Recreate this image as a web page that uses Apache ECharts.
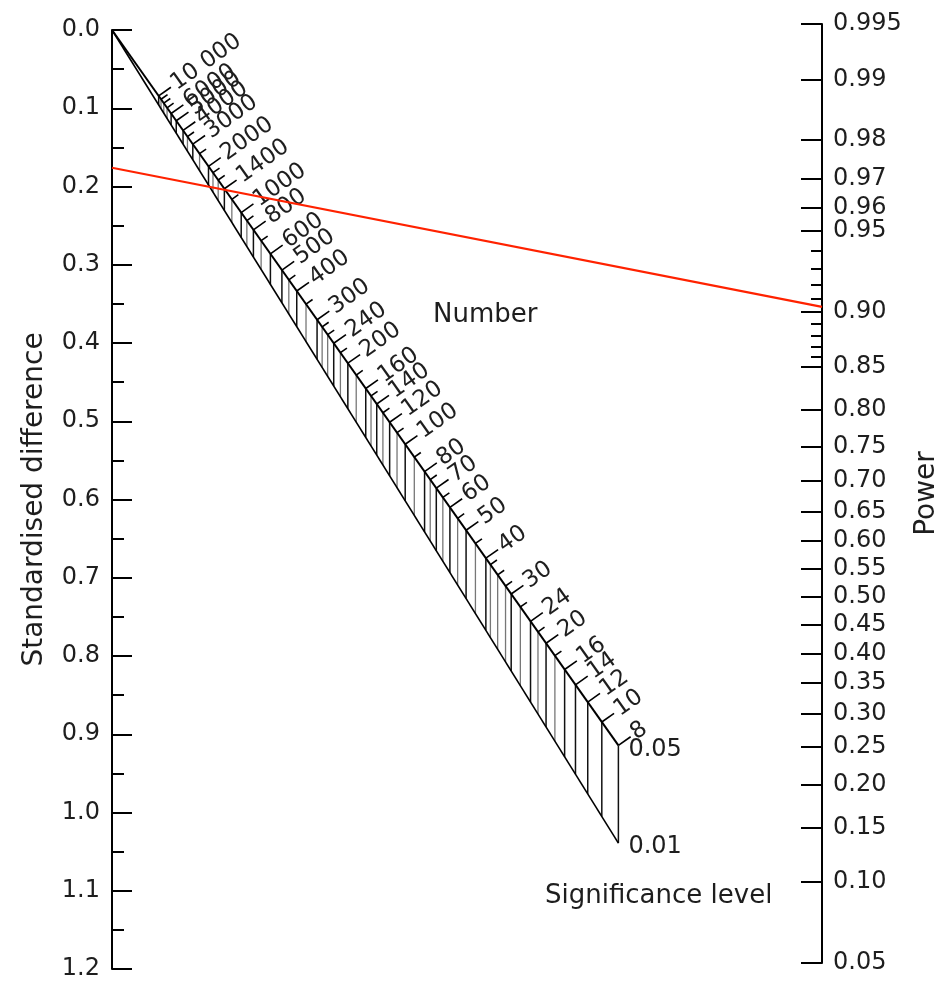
<!DOCTYPE html>
<html><head><meta charset="utf-8">
<script src="https://cdn.jsdelivr.net/npm/echarts@6/dist/echarts.min.js"></script>
<style>html,body{margin:0;padding:0;background:#fff}#c{width:934px;height:981px}</style>
</head><body><div id="c"></div>
<script>
// ---- data ----
const diffMin = 0, diffMax = 1.2, diffInterval = 0.1;
const powerTicks  = [0.995,0.99,0.98,0.97,0.96,0.95,0.90,0.85,0.80,0.75,0.70,0.65,0.60,0.55,0.50,0.45,0.40,0.35,0.30,0.25,0.20,0.15,0.10,0.05];
const powerLabels = ['0.995','0.99','0.98','0.97','0.96','0.95','0.90','0.85','0.80','0.75','0.70','0.65','0.60','0.55','0.50','0.45','0.40','0.35','0.30','0.25','0.20','0.15','0.10','0.05'];
const powerMinorTicks = [0.94,0.93,0.92,0.91,0.89,0.88,0.87,0.86];
const numberMajor  = [10000,6000,5000,4000,3000,2000,1400,1000,800,600,500,400,300,240,200,160,140,120,100,80,70,60,50,40,30,24,20,16,14,12,10,8];
const numberLabels = ['10 000','6000','5000','4000','3000','2000','1400','1000','800','600','500','400','300','240','200','160','140','120','100','80','70','60','50','40','30','24','20','16','14','12','10','8'];
const numberMinor  = [9000,8000,7000,3500,2500,1800,1600,1200,900,700,450,350,280,260,220,180,150,130,110,90,75,65,55,45,38,35,32,27,22,18];
const sigLevels = [0.05, 0.01];
const sigLabels = ['0.05', '0.01'];
const exampleDiff = 0.176, examplePower = 0.904;   // red example line

// inverse normal CDF (probit) – the power axis scale
function probit(p){
  const a=[-3.969683028665376e+01,2.209460984245205e+02,-2.759285104469687e+02,1.383577518672690e+02,-3.066479806614716e+01,2.506628277459239e+00];
  const b=[-5.447609879822406e+01,1.615858368580409e+02,-1.556989798598866e+02,6.680131188771972e+01,-1.328068155288572e+01];
  const c=[-7.784894002430293e-03,-3.223964580411365e-01,-2.400758277161838e+00,-2.549732539343734e+00,4.374664141464968e+00,2.938163982698783e+00];
  const d=[7.784695709041462e-03,3.224671290700398e-01,2.445134137142996e+00,3.754408661907416e+00];
  const pl=0.02425, ph=1-pl; let q,r;
  if(p<pl){q=Math.sqrt(-2*Math.log(p));return (((((c[0]*q+c[1])*q+c[2])*q+c[3])*q+c[4])*q+c[5])/((((d[0]*q+d[1])*q+d[2])*q+d[3])*q+1);}
  if(p<=ph){q=p-0.5;r=q*q;return (((((a[0]*r+a[1])*r+a[2])*r+a[3])*r+a[4])*r+a[5])*q/(((((b[0]*r+b[1])*r+b[2])*r+b[3])*r+b[4])*r+1);}
  q=Math.sqrt(-2*Math.log(1-p));return -(((((c[0]*q+c[1])*q+c[2])*q+c[3])*q+c[4])*q+c[5])/((((d[0]*q+d[1])*q+d[2])*q+d[3])*q+1);
}

const FONT = 'DejaVu Sans';
const TXT = '#1e1e1e';
const powerZ = powerTicks.map(probit);
const powerMinorZ = powerMinorTicks.map(probit);
const zTop = powerZ[0], zBot = powerZ[powerZ.length-1];

const chart = echarts.init(document.getElementById('c'), null, {renderer:'canvas'});

const baseOption = {
  animation: false,
  backgroundColor: '#fff',
  grid: [
    {left:112, right:112, top:30, bottom:12, outerBoundsMode:'none', containLabel:false},
    {left:112, right:112, top:24, bottom:18, outerBoundsMode:'none', containLabel:false}
  ],
  xAxis: [
    {gridIndex:0, type:'value', min:0, max:1, show:false},
    {gridIndex:1, type:'value', min:0, max:1, show:false}
  ],
  yAxis: [
    {gridIndex:0, type:'value', position:'left', inverse:true, min:diffMin, max:diffMax, interval:diffInterval,
     name:'Standardised difference', nameLocation:'middle', nameRotate:90, nameGap:63,
     nameTextStyle:{fontFamily:FONT, fontSize:28, color:TXT},
     axisLine:{show:true, onZero:false, lineStyle:{color:'#000', width:2}},
     axisTick:{show:true, inside:true, length:20, lineStyle:{color:'#000', width:2}},
     minorTick:{show:true, splitNumber:2, length:12, lineStyle:{color:'#000', width:2}},
     splitLine:{show:false}, minorSplitLine:{show:false},
     axisLabel:{formatter:v=>v.toFixed(1), margin:12, fontFamily:FONT, fontSize:24, color:TXT}},
    {gridIndex:1, type:'value', position:'right', min:zBot, max:zTop,
     name:'Power', nameLocation:'middle', nameRotate:90, nameGap:84,
     nameTextStyle:{fontFamily:FONT, fontSize:28, color:TXT},
     axisLine:{show:true, onZero:false, lineStyle:{color:'#000', width:2}},
     axisTick:{show:true, inside:true, length:21, customValues:powerZ, lineStyle:{color:'#000', width:2}},
     splitLine:{show:false},
     axisLabel:{customValues:powerZ, margin:11, fontFamily:FONT, fontSize:24, color:TXT,
       formatter:function(v){let bi=0,bd=1e9;powerZ.forEach((z,i)=>{const dd=Math.abs(z-v);if(dd<bd){bd=dd;bi=i;}});return powerLabels[bi];}}},
    {gridIndex:1, type:'value', position:'right', min:zBot, max:zTop,
     axisLine:{show:false, onZero:false}, splitLine:{show:false}, axisLabel:{show:false},
     axisTick:{show:true, inside:true, length:11, customValues:powerMinorZ, lineStyle:{color:'#000', width:2}}}
  ],
  series: []
};
chart.setOption(baseOption);

// relation between the two outer scales, via the library's axes
function zToDiff(z){
  const py = chart.convertToPixel({yAxisIndex:1}, z);
  return chart.convertFromPixel({yAxisIndex:0}, py);
}
const A = zToDiff(0);
const B = zToDiff(0) - zToDiff(1);
// nomogram: total N at significance alpha lies on ray through origin
function slope(alpha){ return A + B*probit(1 - alpha/2); }
function tOf(N){ return 1/(1 + B*Math.sqrt(N)/2); }
const s05 = slope(sigLevels[0]), s01 = slope(sigLevels[1]);
const Nend = numberMajor[numberMajor.length-1];
const tEnd = tOf(Nend);

const scaleData = [];
numberMajor.forEach((n,i)=>scaleData.push([n,1,i]));
numberMinor.forEach(n=>scaleData.push([n,0,-1]));

const series = [];
sigLevels.forEach((a,i)=>{
  const s = slope(a);
  series.push({
    type:'line', xAxisIndex:0, yAxisIndex:0, symbol:'none', clip:false, z:3,
    data:[[0,0],[tEnd, tEnd*s]],
    lineStyle:{color:'#000', width: i===0 ? 2 : 1.6},
    endLabel:{show:true, formatter:sigLabels[i], distance:10, offset:[0,4], fontFamily:FONT, fontSize:24, color:TXT}
  });
});

series.push({
  type:'custom', xAxisIndex:0, yAxisIndex:0, clip:false, z:2,
  data: scaleData,
  renderItem: function(params, api){
    const N = api.value(0), major = api.value(1), li = api.value(2);
    const t = tOf(N);
    const P = api.coord([t, t*s05]);
    const Q = api.coord([t, t*s01]);
    const O = api.coord([0,0]);
    const E = api.coord([1, s05]);
    let dx = E[0]-O[0], dy = E[1]-O[1];
    const len = Math.hypot(dx,dy); dx/=len; dy/=len;
    const ux = dy, uy = -dx;           // perpendicular, pointing up-right
    const L = major ? 15 : 8;
    const children = [
      {type:'line', shape:{x1:P[0], y1:P[1], x2:Q[0], y2:Q[1]},
       style:{stroke: major ? '#111' : '#777', lineWidth: major ? 1.5 : 1.3}},
      {type:'line', shape:{x1:P[0], y1:P[1], x2:P[0]+ux*L, y2:P[1]+uy*L},
       style:{stroke:'#000', lineWidth:1.6}}
    ];
    if (major && li >= 0) {
      children.push({
        type:'text', x:P[0]+ux*(L+3), y:P[1]+uy*(L+3), rotation: Math.atan2(-uy, ux),
        style:{text:numberLabels[li], fontFamily:FONT, fontSize:23, fill:TXT, align:'left', verticalAlign:'middle'}
      });
    }
    return {type:'group', children};
  }
});

series.push({
  type:'line', xAxisIndex:0, yAxisIndex:0, symbol:'none', clip:false, z:10,
  data:[[0, exampleDiff],[1, zToDiff(probit(examplePower))]],
  lineStyle:{color:'#ff2200', width:2.2}
});

chart.setOption({
  series: series,
  graphic: [
    {type:'text', left:433, top:302, style:{text:'Number', fontFamily:FONT, fontSize:26, fill:TXT}},
    {type:'text', left:545, top:883, style:{text:'Significance level', fontFamily:FONT, fontSize:26, fill:TXT}}
  ]
});
</script></body></html>
